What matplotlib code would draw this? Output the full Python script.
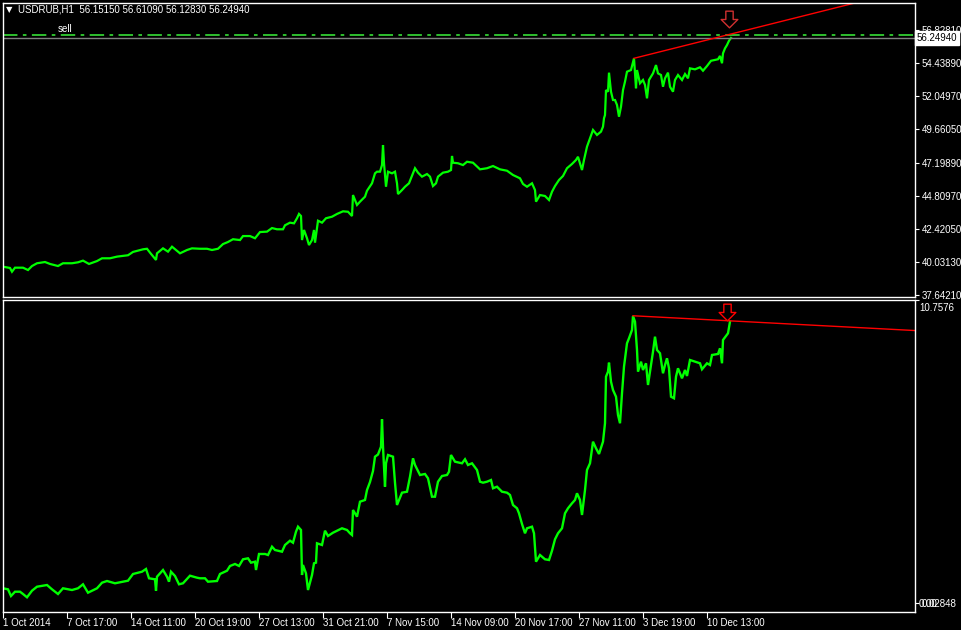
import numpy as np
import matplotlib.pyplot as plt
import matplotlib.transforms as mtransforms
from matplotlib.path import Path

plt.rcParams['font.family'] = ['Liberation Sans', 'DejaVu Sans']

# USDRUB H1 closes (bar position, price)
top_bars = [3, 10, 12, 15, 23, 28, 32, 37, 45, 50, 58, 63, 72, 78, 83, 89, 97, 102, 110, 117,
            128, 133, 143, 147, 150, 156, 157, 163, 168, 172, 180, 187, 192, 200, 207, 212, 218,
            223, 228, 233, 240, 243, 250, 255, 260, 267, 272, 277, 283, 285, 290, 294, 297, 299,
            301, 302, 304, 307, 309, 312, 314, 315, 318, 322, 326, 332, 337, 343, 348, 352, 353,
            357, 360, 365, 367, 372, 375, 377, 380, 382, 383, 384, 386, 388, 392, 395, 397, 398,
            402, 405, 409, 413, 415, 418, 422, 427, 430, 433, 436, 438, 443, 448, 451, 452, 453,
            458, 463, 467, 473, 480, 487, 493, 500, 507, 513, 520, 523, 527, 532, 535, 536, 540,
            545, 549, 552, 555, 559, 563, 567, 572, 576, 578, 582, 584, 587, 590, 593, 597, 601,
            603, 604, 605, 606, 608, 609, 611, 613, 615, 617, 619, 621, 623, 625, 627, 631, 634,
            635, 636, 637, 640, 643, 645, 647, 649, 653, 656, 658, 661, 663, 665, 668, 670, 673,
            675, 678, 682, 685, 688, 690, 695, 700, 703, 707, 711, 715, 718, 720, 722, 723, 725,
            727, 729, 731]
top_close = [39.69, 39.60, 39.33, 39.62, 39.62, 39.45, 39.74, 39.94, 40.03, 39.89, 39.74, 39.94,
             39.94, 40.01, 40.13, 39.89, 40.10, 40.30, 40.30, 40.42, 40.52, 40.76, 40.95, 40.99,
             40.71, 40.18, 40.66, 41.02, 40.78, 41.14, 40.66, 40.90, 41.02, 40.99, 40.99, 40.90,
             40.99, 41.33, 41.48, 41.68, 41.62, 41.91, 41.91, 41.75, 42.20, 42.23, 42.49, 42.40,
             42.40, 42.69, 42.88, 42.83, 43.20, 43.51, 43.36, 41.62, 42.35, 41.75, 41.26, 41.62,
             42.35, 41.43, 43.02, 42.88, 43.20, 43.31, 43.51, 43.70, 43.67, 43.36, 44.88, 44.16,
             44.40, 44.76, 45.19, 45.73, 46.45, 46.57, 46.57, 47.05, 48.50, 47.18, 45.48, 46.57,
             46.45, 46.57, 45.73, 44.95, 45.24, 45.48, 45.73, 46.45, 46.82, 46.50, 46.21, 46.40,
             46.21, 45.53, 45.73, 46.21, 46.50, 46.57, 46.69, 47.71, 47.22, 47.18, 47.05, 47.29,
             47.22, 46.74, 46.82, 46.98, 46.74, 46.64, 46.33, 46.09, 45.68, 45.48, 45.73, 45.24,
             44.40, 44.88, 44.81, 44.52, 45.12, 45.53, 45.97, 46.26, 46.82, 47.13, 47.42, 47.65,
             46.69, 47.42, 48.38, 48.99, 49.59, 49.23, 49.47, 49.83, 50.44, 50.67, 52.48, 52.36,
             53.74, 52.36, 51.76, 51.76, 51.40, 50.55, 51.28, 52.48, 53.09, 53.81, 53.93, 54.78,
             53.69, 52.61, 53.93, 52.97, 53.21, 52.85, 51.88, 53.21, 53.69, 54.29, 53.69, 53.57,
             52.72, 53.33, 53.74, 52.72, 52.36, 53.21, 53.57, 53.21, 53.64, 53.33, 54.05, 53.98,
             54.13, 53.88, 54.22, 54.60, 54.66, 54.71, 54.95, 54.42, 55.14, 55.50, 55.74, 56.05,
             56.25]

# indicator window (bar position, value)
ind_bars = [3, 8, 11, 15, 20, 23, 27, 32, 37, 47, 52, 58, 63, 72, 78, 83, 88, 97, 102, 107, 115,
            123, 128, 133, 142, 146, 149, 155, 156, 157, 163, 167, 169, 171, 175, 179, 183, 190,
            197, 200, 205, 208, 217, 220, 227, 230, 235, 239, 243, 248, 251, 255, 256, 259, 265,
            268, 272, 275, 282, 285, 290, 293, 296, 298, 301, 302, 303, 306, 308, 312, 314, 316,
            317, 322, 325, 328, 333, 342, 347, 350, 352, 353, 357, 360, 365, 367, 370, 373, 375,
            378, 381, 382, 383, 385, 386, 388, 393, 395, 397, 402, 407, 410, 413, 415, 420, 425,
            428, 432, 435, 438, 442, 447, 449, 451, 455, 462, 465, 468, 472, 477, 480, 483, 487,
            491, 493, 497, 502, 507, 510, 513, 517, 519, 522, 525, 527, 532, 534, 536, 540, 545,
            549, 552, 555, 558, 562, 565, 568, 572, 575, 577, 580, 582, 585, 587, 590, 593, 596,
            599, 603, 605, 606, 608, 609, 611, 613, 616, 618, 620, 622, 624, 627, 629, 632, 633,
            635, 637, 638, 641, 643, 646, 648, 651, 653, 655, 657, 660, 663, 665, 667, 669, 671,
            674, 676, 678, 682, 685, 687, 690, 695, 700, 702, 707, 710, 712, 718, 720, 722, 723,
            726, 728, 730]
ind_values = [0.556, 0.520, 0.283, 0.435, 0.435, 0.354, 0.237, 0.471, 0.612, 0.672, 0.520, 0.354,
              0.556, 0.495, 0.556, 0.697, 0.400, 0.556, 0.754, 0.814, 0.733, 0.789, 0.825, 1.062,
              1.143, 1.239, 0.910, 0.874, 0.471, 0.966, 1.203, 0.966, 0.789, 1.143, 0.991, 0.697,
              0.733, 1.002, 0.931, 0.910, 0.910, 0.789, 0.814, 1.062, 1.178, 1.345, 1.416, 1.345,
              1.582, 1.617, 1.462, 1.497, 1.203, 1.770, 1.770, 1.734, 2.028, 1.911, 1.851, 2.088,
              2.240, 2.169, 2.559, 2.736, 2.619, 1.026, 1.380, 1.086, 0.495, 1.026, 1.440, 1.462,
              2.148, 2.088, 2.594, 2.407, 2.523, 2.679, 2.619, 2.502, 2.442, 3.327, 3.090, 3.620,
              3.681, 4.034, 4.318, 4.707, 5.213, 5.291, 5.567, 6.537, 5.567, 4.151, 4.979, 5.273,
              5.213, 4.293, 3.504, 3.939, 3.974, 4.505, 5.156, 4.919, 4.565, 4.601, 4.449, 3.797,
              3.797, 4.328, 4.530, 4.565, 4.682, 5.273, 5.036, 4.979, 5.121, 4.919, 4.979, 4.742,
              4.328, 4.293, 4.328, 4.388, 4.095, 4.151, 3.974, 3.939, 3.858, 3.504, 3.387, 3.210,
              2.831, 2.502, 2.679, 2.736, 2.502, 1.497, 1.734, 1.582, 1.557, 1.886, 2.290, 2.502,
              2.679, 3.210, 3.387, 3.564, 3.681, 3.918, 3.681, 3.150, 4.034, 4.742, 4.979, 5.744,
              5.510, 5.309, 5.744, 6.395, 8.044, 8.221, 8.540, 7.867, 7.573, 7.336, 6.689, 6.395,
              7.457, 8.398, 9.226, 9.403, 9.697, 10.192, 9.991, 8.989, 8.221, 8.575, 8.281, 8.518,
              7.750, 8.458, 8.929, 9.460, 8.989, 8.872, 8.164, 8.458, 8.695, 8.341, 7.336, 7.280,
              8.044, 8.341, 7.987, 8.281, 8.069, 8.635, 8.575, 8.518, 8.306, 8.518, 8.458, 8.812,
              8.848, 9.049, 8.518, 9.343, 9.485, 9.580, 9.991]

price_ticks = [56.82810, 54.43890, 52.04970, 49.66050, 47.19890, 44.80970, 42.42050, 40.03130, 37.64210]
tick_bars = [3, 67, 131, 195, 259, 323, 387, 451, 515, 579, 643, 707]
tick_labels = ["1 Oct 2014", "7 Oct 17:00", "14 Oct 11:00", "20 Oct 19:00", "27 Oct 13:00",
               "31 Oct 21:00", "7 Nov 15:00", "14 Nov 09:00", "20 Nov 17:00", "27 Nov 11:00",
               "3 Dec 19:00", "10 Dec 13:00"]

ohlc_text = "USDRUB,H1  56.15150 56.61090 56.12830 56.24940"
bid = 56.24940
sell_level = 56.44
top_trend_bars = [634, 730]
top_trend_vals = [54.78, 56.52]
ind_trend_bars = [633, 730]
ind_trend_vals = [10.20, 10.02]
ind_max = 10.7576
ind_min = 0.02848

GREEN = '#00ff00'
RED = '#ff0000'

arrow = Path([(-0.22, 0.5), (0.22, 0.5), (0.22, 0.0), (0.5, 0.0), (0.0, -0.5),
              (-0.5, 0.0), (-0.22, 0.0), (-0.22, 0.5)],
             [Path.MOVETO] + [Path.LINETO] * 6 + [Path.CLOSEPOLY])

fig = plt.figure(figsize=(9.62, 6.30), dpi=100, facecolor='black')
ax1 = fig.add_axes([3/962, 1-297/630, 912/962, 294/630])
ax2 = fig.add_axes([3/962, 1-612/630, 912/962, 312/630])

for ax in (ax1, ax2):
    ax.set_facecolor('black')
    for s in ax.spines.values():
        s.set_color('white')
        s.set_linewidth(1)
    ax.set_xlim(3, 915)
    ax.yaxis.tick_right()
    ax.tick_params(axis='y', colors='white', length=3, pad=2, labelsize=7, width=0.8)

# top: price
ax1.set_ylim(37.4973, 58.783)
ax1.plot(top_bars, top_close, color=GREEN, lw=1.6, solid_joinstyle='miter')
ax1.axhline(bid, color='#808080', lw=1)
ax1.axhline(sell_level, color='#32cd32', lw=1.3, dashes=(8, 3, 2, 3))
ax1.text(58, sell_level + 0.12, 'sell', color='white', fontsize=7, va='bottom')

slope = (top_trend_vals[1] - top_trend_vals[0]) / (top_trend_bars[1] - top_trend_bars[0])
ax1.plot([top_trend_bars[0], 915], [top_trend_vals[0], top_trend_vals[0] + slope * (915 - top_trend_bars[0])],
         color=RED, lw=1)
ax1.plot([729], [57.62], marker=arrow, ms=12, mfc='none', mec='#d03030', mew=1)

ax1.set_xticks([])
ax1.set_yticks(price_ticks)
ax1.set_yticklabels([f"{v:.5f}" for v in price_ticks])

trans1 = mtransforms.blended_transform_factory(ax1.transAxes, ax1.transData)
ax1.text(1.002, bid, f"{bid:.5f}", transform=trans1, color='black', fontsize=7, va='center', ha='left',
         bbox=dict(facecolor='white', edgecolor='white', pad=1.2))

fig.text(6/962, 1-10/630, '\u25bc', color='white', fontsize=6, va='center', family='DejaVu Sans')
fig.text(18/962, 1-10/630, ohlc_text, color='white', fontsize=7, va='center')

# bottom: indicator
ax2.set_ylim(-0.283, ind_max)
ax2.plot(ind_bars, ind_values, color=GREEN, lw=1.7, solid_joinstyle='miter')
slope2 = (ind_trend_vals[1] - ind_trend_vals[0]) / (ind_trend_bars[1] - ind_trend_bars[0])
ax2.plot([ind_trend_bars[0], 915], [ind_trend_vals[0], ind_trend_vals[0] + slope2 * (915 - ind_trend_bars[0])],
         color=RED, lw=1)
ax2.plot([727], [10.33], marker=arrow, ms=12, mfc='none', mec=RED, mew=1)

ax2.set_yticks([ind_max, ind_min])
ax2.set_yticklabels(['', f"{ind_min:.5f}"])
trans2 = mtransforms.blended_transform_factory(ax2.transAxes, ax2.transData)
ax2.text(1.0045, ind_max - 0.12, f"{ind_max:.4f}", transform=trans2, color='white', fontsize=7,
         va='top', ha='left')
ax2.text(1.0045, 0.0, "0.00", transform=trans2, color='white', fontsize=7, va='center', ha='left')

ax2.set_xticks(tick_bars)
ax2.set_xticklabels(tick_labels)
ax2.tick_params(axis='x', colors='white', length=4, pad=0.5, labelsize=7, width=0.8)
for lbl in ax2.get_xticklabels():
    lbl.set_ha('left')

fig.savefig('out.png', dpi=100, facecolor='black')
